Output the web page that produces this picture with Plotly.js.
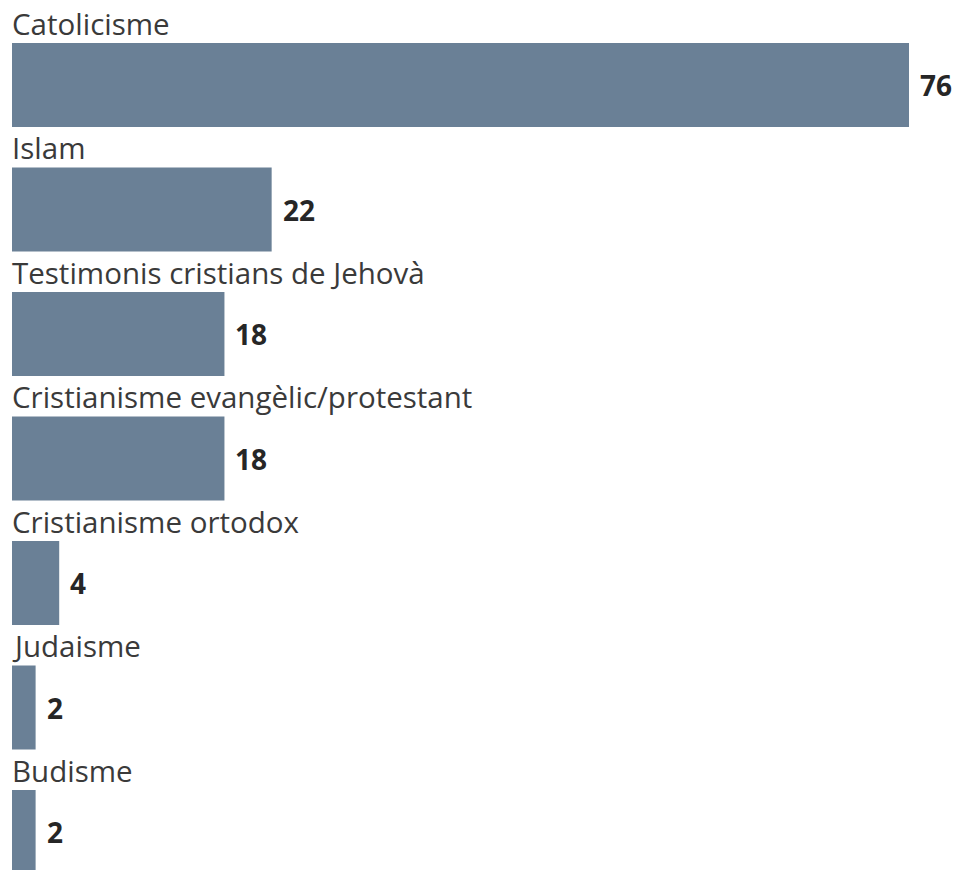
<!DOCTYPE html>
<html>
<head>
<meta charset="utf-8">
<script src="https://cdn.plot.ly/plotly-3.0.1.min.js"></script>
<style>html,body{margin:0;padding:0;background:#fff;}#chart{width:960px;height:870px;}</style>
</head>
<body>
<div id="chart"></div>
<script>
const categories = ["Catolicisme", "Islam", "Testimonis cristians de Jehovà", "Cristianisme evangèlic/protestant", "Cristianisme ortodox", "Judaisme", "Budisme"];
const values = [76, 22, 18, 18, 4, 2, 2];

const barColor = "#6a8096";
const fontFam = "'Open Sans', 'Noto Sans', sans-serif";

const trace = {
  type: "bar",
  orientation: "h",
  x: values,
  y: categories,
  marker: {color: barColor, line: {width: 0}},
  hoverinfo: "none"
};

const annotations = [];
categories.forEach((c, i) => {
  annotations.push({
    x: 0, y: c, xref: "x", yref: "y",
    text: c, showarrow: false,
    xanchor: "left", yanchor: "middle",
    xshift: -2, yshift: 62,
    font: {family: fontFam, size: 29.5, color: "#3a3a3a"}
  });
  annotations.push({
    x: values[i], y: c, xref: "x", yref: "y",
    text: "<b>" + values[i] + "</b>", showarrow: false,
    xanchor: "left", yanchor: "middle",
    xshift: 9, yshift: 0,
    font: {family: fontFam, size: 28, color: "#262626"}
  });
});

const layout = {
  width: 960, height: 870,
  margin: {l: 12, r: 0, t: 0, b: 0},
  paper_bgcolor: "#fff", plot_bgcolor: "#fff",
  bargap: 0.325,
  showlegend: false,
  xaxis: {range: [0, 80.32], visible: false, fixedrange: true},
  yaxis: {type: "category", range: [6.305, -0.683], visible: false, fixedrange: true},
  annotations: annotations
};

Plotly.newPlot("chart", [trace], layout, {displayModeBar: false, staticPlot: true});
</script>
</body>
</html>
